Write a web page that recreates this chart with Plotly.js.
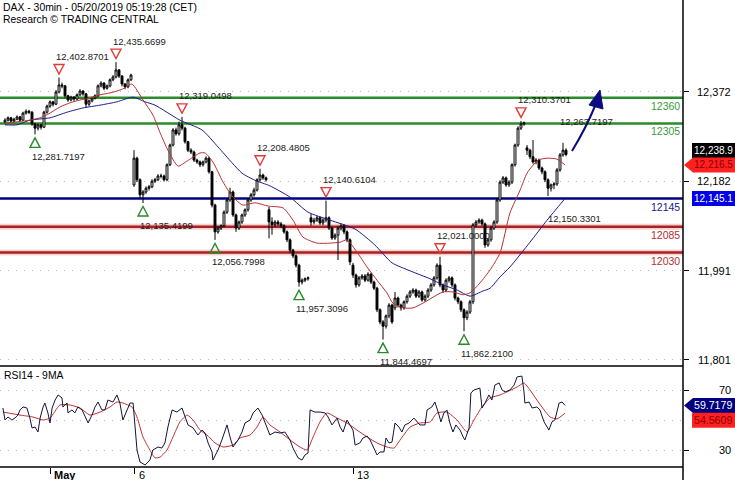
<!DOCTYPE html>
<html><head><meta charset="utf-8">
<script src="https://cdn.plot.ly/plotly-3.0.1.min.js"></script>
<style>html,body{margin:0;padding:0;background:#fff;}#chart{width:735px;height:480px;}</style>
</head><body><div id="chart"></div>
<script>
// ---------------- DATA ----------------
const openP = [12308,12312,12317,12310,12314,12319,12312,12327,12331,12329,12304,12295,12302,12297,12329,12342,12351,12346,12372,12387,12385,12364,12355,12361,12357,12366,12374,12368,12346,12353,12359,12364,12385,12391,12380,12385,12398,12404,12419,12406,12389,12383,12398,
12174,12231,12185,12153,12159,12167,12170,12182,12185,12193,12193,12185,12217,12259,12291,12283,12302,12295,12266,12248,12244,12227,12223,12217,12223,12231,12202,12131,12074,12082,12087,12116,12142,12159,12110,12082,12095,12110,12121,12142,12153,12163,12185,12195,12189,
12121,12095,12089,12095,12091,12087,12074,12057,12035,12023,12003,11967,11971,11974,
12104,12095,12099,12104,12093,12099,12104,12082,12061,12067,12082,12087,12074,12057,
12003,11982,11961,11976,11980,11971,11984,11967,11954,11908,11882,11873,11895,11918,
11912,11933,11918,11912,11925,11937,11946,11950,11937,11946,11929,11937,11950,11961,11976,12003,11961,11950,11971,11976,11961,11933,11925,11908,11891,11903,
11925,12089,12095,12099,12091,12046,12057,12082,12095,12142,12180,12189,12174,12180,12217,12259,12295,12304,
12253,12248,12234,12223,12227,12210,12202,12185,12167,12174,12176,12206,12238,12248];
const highP = [12316,12320,12319,12317,12322,12321,12330,12335,12334,12331,12306,12305,12304,12332,12345,12354,12353,12376,12402.87,12392,12387,12366,12364,12363,12369,12378,12376,12370,12356,12362,12367,12388,12395,12393,12388,12401,12408,12435.67,12421,12408,12391,12401,12411,
12248,12234,12188,12163,12171,12174,12186,12189,12197,12198,12196,12220,12262,12295,12296,12309,12319.05,12298,12268,12252,12247,12230,12226,12226,12235,12234,12204,12134,12086,12090,12120,12146,12168,12162,12113,12098,12113,12124,12146,12157,12168,12188,12208.48,12198,12192,
12127,12105,12099,12099,12095,12090,12077,12060,12038,12026,12006,11975,11977,11979,
12112,12104,12108,12107,12103,12140.61,12107,12085,12071,12086,12091,12090,12077,12060,
12008,11985,11980,11984,11984,11988,11987,11970,11957,11911,11886,11898,11922,11921,
11946,11936,11921,11928,11941,11950,11954,11953,11950,11949,11941,11954,11965,11980,12007,12021.0,11964,11975,11980,11979,11964,11936,11928,11911,11907,
11929,12093,12099,12103,12102,12094,12061,12086,12099,12146,12184,12193,12192,12184,12220,12262,12299,12310.37,12309,
12259,12251,12269.7,12231,12230,12213,12205,12188,12177,12180,12210,12242,12263.72,12252];
const lowP = [12305,12309,12306,12307,12312,12309,12310,12324,12325,12300,12281.72,12290,12292,12295,12326,12338,12341,12344,12369,12380,12360,12351,12352,12353,12355,12363,12364,12338,12342,12350,12356,12361,12382,12376,12377,12382,12395,12401,12402,12384,12378,12380,12395,
12170,12180,12146,12135.42,12155,12162,12167,12178,12182,12188,12181,12182,12214,12256,12279,12279,12290,12262,12244,12240,12223,12219,12212,12213,12220,12198,12126,12056.8,12070,12078,12084,12112,12138,12106,12074,12078,12091,12106,12117,12138,12149,12160,12181,12185,12181,
12060,12068,12084,12086,12082,12070,12052,12030,12018,11998,11957.31,11962,11967,11970,
12087,12090,12095,12089,12088,12094,12078,12057,12057,12014,12077,12069,12052,12003,
11976,11955,11957,11972,11967,11968,11963,11950,11903,11877,11844.47,11868,11890,11878,
11907,11913,11906,11908,11921,11933,11942,11933,11933,11925,11925,11933,11946,11957,11972,11956,11944,11946,11966,11956,11928,11920,11903,11862.21,11886,
11899,11920,12084,12091,12087,12040,12042,12053,12078,12091,12138,12176,12170,12170,12176,12213,12255,12291,12300,
12238,12229,12219,12218,12206,12197,12180,12150.33,12160,12165,12172,12202,12234,12235];
const closeP = [12312,12317,12310,12314,12319,12312,12327,12331,12329,12304,12295,12302,12297,12329,12342,12351,12346,12372,12387,12385,12364,12355,12361,12357,12366,12374,12368,12346,12353,12359,12364,12385,12391,12380,12385,12398,12404,12419,12406,12389,12383,12398,12408,
12231,12185,12153,12159,12167,12170,12182,12185,12193,12193,12185,12217,12259,12291,12283,12302,12295,12266,12248,12244,12227,12223,12217,12223,12231,12202,12131,12074,12082,12087,12116,12142,12159,12110,12082,12095,12110,12121,12142,12153,12163,12185,12195,12189,12185,
12095,12089,12095,12091,12087,12074,12057,12035,12023,12003,11967,11971,11974,11976,
12095,12099,12104,12093,12099,12104,12082,12061,12067,12082,12087,12074,12057,12010,
11982,11961,11976,11980,11971,11984,11967,11954,11908,11882,11873,11895,11918,11882,
11933,11918,11912,11925,11937,11946,11950,11937,11946,11929,11937,11950,11961,11976,12003,11961,11950,11971,11976,11961,11933,11925,11908,11891,11903,11925,
12089,12095,12099,12091,12046,12057,12082,12095,12142,12180,12189,12174,12180,12217,12259,12295,12304,12306,
12248,12234,12223,12227,12210,12202,12185,12167,12174,12176,12206,12238,12248,12238.9];

// moving averages on price (bar index, value)
const maFastX = [0,3.3,8.3,11.7,15,18.3,21.7,25,28.3,31.7,35,38.3,40,42.3,46,49.3,51.7,54.3,57.7,60.7,65,66.7,69.3,72.7,76,79.3,83.3,87.7,92.7,96,99.3,104,108.3,111.7,114,117.3,120.7,124,127.3,129.3,132.7,136,139.3,142.7,146,149.3,152.7,155,158.3,161.7,165,168.3,171.7,174,176,177.7,180.7,184,186.7];
const maFastV = [12306,12308,12312,12317,12327,12340,12349,12355,12359,12366,12370,12376,12381,12389,12355,12323,12285,12248,12214,12225,12242,12242,12223,12180,12148,12131,12136,12129,12125,12099,12063,12050,12050,12052,12057,12031,11999,11971,11944,11922,11912,11912,11922,11935,11946,11946,11940,11944,11965,11993,12029,12114,12163,12199,12216,12227,12231,12229,12216.5];
const maSlowX = [0,4,8.3,15,20.7,26,31.7,37.3,42.7,46.7,50,58.3,65.7,71,75.7,79,83.3,88.3,95,101,108.3,116.7,123.3,129,135,141.7,146,150.7,155,159.3,161.7,165,168.3,175,180.7,186.7];
const maSlowV = [12302,12302,12312,12317,12329,12338,12344,12351,12361,12351,12344,12312,12291,12255,12221,12199,12184,12172,12148,12116,12099,12080,12046,12008,11991,11974,11961,11950,11937,11948,11954,11978,11999,12052,12099,12145.1];

// RSI14 and its 9MA
const rsiX = [-0.7,0,1,2.3,3.3,4.3,5,6,7.3,8.3,9,10,11,11.7,12.7,13.3,14.3,15,15.7,16.7,17.7,19,19.3,20.7,21,22.3,23.3,24.3,25.7,26.7,27.7,29,30,31,32.3,33.3,34.3,36,37.3,38.3,39.3,40.7,41.7,42.7,43.3,44,45,46.7,48.3,49.3,51,52.3,53.3,54.3,55.7,57.3,59,60,61,62.7,64.3,65.7,66.7,67.7,69,69.3,71,72.3,74,75,76,77.7,79,80,81.7,82.7,84.3,85.7,86.7,88.3,90,91.7,93.3,95,96,97.7,99,100,101,101.7,103.3,105,106.7,107.7,109,110.7,111.7,112.7,114,115,116,116.7,118.3,119.3,120.7,121.7,123,124,125,126.3,127,128,129,130,131.3,132.3,133.3,134.7,136.3,137.3,138.3,140,140.7,142.3,143.3,144.7,145.3,146.3,147.3,148.3,149.3,150.3,151.7,152.7,153.3,154.7,155.3,156.3,158.3,159,160,161.3,162.3,163.3,164.7,165.7,166.7,168.3,169.7,170.7,172.3,173,173.3,174.7,175.7,177.3,178.3,179.7,181.3,182.3,183.3,184.7,185.7,186.7];
const rsiV = [58,50,52,50,51.3,53.3,56.7,58.7,58,51.3,44.7,45.3,42,51.3,58.7,61.3,54.7,48,58,63.3,66.7,64.7,58.7,61.3,54.7,56.7,54.7,58.7,56.7,52,48,53.3,58.7,62,56.7,56.7,63.3,62,66.7,61.3,50,56.7,61.3,61.3,45.3,30,22,20,23.3,30,32,31.3,34.7,45.3,56.7,55.3,58,52,46.7,44.7,40,43.3,41.3,34.7,28.7,23.3,30,36.7,46.7,38.7,32,36.7,42,48,50,54.7,58,53.3,48,40,42,41.3,42,36.7,31.3,24.7,23.3,26.7,28,56.7,55.3,55.3,54.7,52,46.7,51.3,45.3,42,50,46.7,43.3,33.3,34.7,38,39.3,36.7,31.3,26.7,28.7,28.7,38,34.7,35.3,48,45.3,42,46.7,48,51.3,48.7,46.7,46.7,56.7,58.7,62,53.3,48.7,54.7,56.7,48,42,46.7,43.3,38.7,36.7,44.7,68,70,71.3,58,61.3,66.7,63.3,73.3,74.7,70,68.7,70,73.3,78.7,79.3,68.7,61.3,62,58,58.7,56.7,48.7,43.3,48.7,50,61.3,62,59.7179];
const rsiMaX = [-0.7,5,9.3,12.7,15,18.3,21.7,25,28.3,31.7,35,37.3,39.3,42.3,44,46,48.3,50,51.7,54,56,58.3,60.7,62.7,65,67.3,70,72.7,76,78.3,81.7,84,86,88.3,91.7,95,98.3,100.7,102.7,105,107.3,110.7,114,117.3,120.7,124,127.3,129.7,131.7,135,138.3,141.7,144,147.3,150.7,154,156.3,159,161.7,165,167.3,170.7,173,175,177.3,179.7,181.7,184,186.7];
const rsiMaV = [55.3,53.3,52,50,51.3,60,60,58,53.3,55.3,58.7,62,61.3,58.7,52,38.7,30,24.7,25.3,30,38.7,48.7,53.3,50,43.3,40,34.7,32,33.3,38,40,45.3,52,46.7,42,36.7,32,30,38.7,48.7,54.7,51.3,48,43.3,38.7,34.7,32,31.3,36.7,45.3,48,48.7,54.7,55.3,50,42,50,58.7,64.7,66.7,68.7,72,74.7,70,63.3,56.7,52,50.7,54.5609];

// pivots
const pivX = [10,18,37,46,59,70,85,98,107,126,145,153,172,186,182];
const pivV = [12281.7197,12402.8701,12435.6699,12135.4199,12319.0498,12056.7998,12208.4805,11957.3096,12140.6104,11844.4697,12021.0000,11862.2100,12310.3701,12263.7197,12150.3301];
const pivType = ['L','H','H','L','H','L','H','L','H','L','H','L','H','H','L'];
const pivMarked = [1,1,1,1,1,1,1,1,1,1,1,1,1,0,0];

// support / resistance levels
const levels = [12360,12305,12145,12085,12030];
const levelKind = ['res','res','piv','sup','sup'];

// axis ticks
const priceTicks = [12372,12182,11991,11801];
const rsiTicks = [70,30];
const rsiGrid = [50];
const xTickPos = [15,43.33,116];
const xTickText = ['<b>May</b>','6','13'];

// ---------------- LAYOUT ----------------
const PW=683, PH=467;
const px=x=>x/PW, py=y=>1-y/PH;
const split = 1-366/PH;
const F='Liberation Sans, Arial, sans-serif';
const idx = closeP.map((_,i)=>i);
const shapes=[], ann=[];

const lvlStyle = {
  res:{line:'#2a8c2a', text:'#3a9a3a'},
  piv:{line:'#000080', text:'#202090'},
  sup:{line:'#a82222', text:'#b03030', halo:'rgba(235,150,150,0.45)'}
};
levels.forEach((v,k)=>{
  const s=lvlStyle[levelKind[k]];
  if(s.halo) shapes.push({type:'line',xref:'paper',yref:'y',x0:0,x1:1,y0:v,y1:v,line:{color:s.halo,width:6},layer:'below'});
  shapes.push({type:'line',xref:'paper',yref:'y',x0:0,x1:1,y0:v,y1:v,line:{color:s.line,width:2.5},layer:'below'});
  ann.push({xref:'paper',yref:'y',x:1,y:v,xanchor:'right',yanchor:'top',yshift:0,xshift:-1,text:String(v),showarrow:false,font:{family:F,size:10.5,color:s.text}});
});

// panel borders
shapes.push({type:'line',xref:'paper',yref:'paper',x0:0,x1:1,y0:split,y1:split,line:{color:'#000',width:1.5}});
shapes.push({type:'line',xref:'paper',yref:'paper',x0:0,x1:1,y0:0,y1:0,line:{color:'#000',width:1.5}});
shapes.push({type:'line',xref:'paper',yref:'paper',x0:1,x1:1,y0:-13/PH,y1:1,line:{color:'#000',width:1.5}});

// axis labels
priceTicks.forEach(v=>ann.push({xref:'paper',yref:'y',x:px(733),y:v,xanchor:'right',yanchor:'middle',text:v.toLocaleString('en-US'),showarrow:false,font:{family:F,size:11,color:'#000'}}));
rsiTicks.forEach(v=>ann.push({xref:'paper',yref:'y2',x:px(733),y:v,xanchor:'right',yanchor:'middle',text:String(v),showarrow:false,font:{family:F,size:11,color:'#000'}}));
xTickPos.forEach((p,k)=>ann.push({xref:'x',yref:'paper',x:p,y:-8/PH,xanchor:'left',yanchor:'middle',xshift:2,text:xTickText[k],showarrow:false,font:{family:F,size:11,color:'#000'}}));

// header
ann.push({xref:'paper',yref:'paper',x:px(1),y:py(7),xanchor:'left',yanchor:'middle',text:'DAX - 30min - 05/20/2019 05:19:28 (CET)',showarrow:false,font:{family:F,size:10.4,color:'#000'}});
ann.push({xref:'paper',yref:'paper',x:px(1),y:py(20),xanchor:'left',yanchor:'middle',text:'Research © TRADING CENTRAL',showarrow:false,font:{family:F,size:10.4,color:'#000'}});
ann.push({xref:'paper',yref:'paper',x:px(2),y:py(375),xanchor:'left',yanchor:'middle',text:'RSI14 - 9MA',showarrow:false,font:{family:F,size:10.4,color:'#000'}});

// pivots: hollow triangle marks (pixel-sized shapes anchored at the pivot) + labels
pivX.forEach((x,k)=>{
  const hi = pivType[k]==='H';
  if(pivMarked[k]) shapes.push({type:'path',xref:'x',yref:'y',xsizemode:'pixel',ysizemode:'pixel',xanchor:x,yanchor:pivV[k],
    path: hi ? 'M-5,13 L5,13 L0,3.5 Z' : 'M-5,-13 L5,-13 L0,-3.5 Z',
    fillcolor:'rgba(255,255,255,0)',line:{color:hi?'#e03a3a':'#2a8a2a',width:1.4}});
  ann.push({xref:'x',yref:'y',x:x,y:pivV[k],xanchor:'left',yanchor:'middle',xshift:-5,yshift:hi?21:-22,text:pivV[k].toLocaleString('en-US',{minimumFractionDigits:4,maximumFractionDigits:4}),showarrow:false,font:{family:F,size:9.5,color:'#1a1a1a'}});
});

// value boxes at right
const lastClose = closeP[closeP.length-1];
const lastFast = maFastV[maFastV.length-1];
const lastSlow = maSlowV[maSlowV.length-1];
const lastRsi = rsiV[rsiV.length-1];
const lastRsiMa = rsiMaV[rsiMaV.length-1];
const f1 = v=>v.toLocaleString('en-US',{minimumFractionDigits:1,maximumFractionDigits:1});
const boxes = [
  {v:lastClose, ax:'y', fill:'#000000', tc:'#ffffff', arrow:false, txt:f1(lastClose), shift:4, fs:10},
  {v:lastFast, ax:'y', fill:'#ff2020', tc:'#8a0000', arrow:true, txt:f1(lastFast), shift:0, fs:10},
  {v:lastSlow, ax:'y', fill:'#0000e6', tc:'#ffffff', arrow:false, txt:f1(lastSlow), shift:0, fs:10},
  {v:lastRsi, ax:'y2', fill:'#000080', tc:'#ffffff', arrow:true, txt:lastRsi.toFixed(4), shift:0, fs:10.6},
  {v:lastRsiMa, ax:'y2', fill:'#ff2020', tc:'#8a0000', arrow:false, txt:lastRsiMa.toFixed(4), shift:-7, fs:10.6}
];
boxes.forEach(b=>{
  const s=b.shift, t=(7.5+s), u=(-7.5+s);
  const path = b.arrow ? `M1,${s} L10,${t} L60,${t} L60,${u} L10,${u} Z` : `M9,${t} L60,${t} L60,${u} L9,${u} Z`;
  shapes.push({type:'path',xref:'paper',yref:b.ax,xsizemode:'pixel',ysizemode:'pixel',xanchor:1,yanchor:b.v,path:path,fillcolor:b.fill,line:{width:0}});
  ann.push({xref:'paper',yref:b.ax,x:px(693),y:b.v,yshift:s,xanchor:'left',yanchor:'middle',text:b.txt,showarrow:false,borderpad:0,font:{family:F,size:b.fs,color:b.tc}});
});

// forecast arrow
const P=(x,y)=>px(x)+','+py(y);
shapes.push({type:'path',xref:'paper',yref:'paper',path:'M'+P(572,151)+' Q'+P(586,128)+' '+P(595,106),line:{color:'#0c0c80',width:2}});
shapes.push({type:'path',xref:'paper',yref:'paper',path:'M'+P(600,90)+' L'+P(589,105)+' L'+P(603,109)+' Z',fillcolor:'#0c0c80',line:{color:'#0c0c80',width:1}});

const traces = [
  {type:'candlestick',x:idx,open:openP,high:highP,low:lowP,close:closeP,xaxis:'x',yaxis:'y',
   increasing:{line:{color:'#000',width:1},fillcolor:'#ffffff'},
   decreasing:{line:{color:'#000',width:1},fillcolor:'#000000'},
   whiskerwidth:0,hoverinfo:'skip',showlegend:false},
  {type:'scatter',mode:'lines',x:maSlowX,y:maSlowV,xaxis:'x',yaxis:'y',line:{color:'#1c1c8c',width:1,shape:'spline',smoothing:0.6},hoverinfo:'skip'},
  {type:'scatter',mode:'lines',x:maFastX,y:maFastV,xaxis:'x',yaxis:'y',line:{color:'#b83030',width:1,shape:'spline',smoothing:0.6},hoverinfo:'skip'},
  {type:'scatter',mode:'lines',x:rsiMaX,y:rsiMaV,xaxis:'x',yaxis:'y2',line:{color:'#c03030',width:1,shape:'spline',smoothing:0.5},hoverinfo:'skip'},
  {type:'scatter',mode:'lines',x:rsiX,y:rsiV,xaxis:'x',yaxis:'y2',line:{color:'#14143c',width:1},hoverinfo:'skip'}
];

const grid = {showgrid:true,gridcolor:'#b8b8b8',gridwidth:1,griddash:'1px,7px'};
const layout = {
  width:735,height:480,margin:{l:0,r:52,t:0,b:13,pad:0},
  paper_bgcolor:'#fff',plot_bgcolor:'#fff',showlegend:false,hovermode:false,
  boxgap:0.1,
  xaxis:{domain:[0,1],range:[-1.667,226],anchor:'y2',showgrid:false,zeroline:false,showline:false,
    tickmode:'array',tickvals:xTickPos,ticks:'outside',ticklen:6,tickwidth:1,tickcolor:'#000',showticklabels:false,
    rangeslider:{visible:false},fixedrange:true},
  yaxis:Object.assign({domain:[split,1],range:[11788.2,12568],side:'right',anchor:'x',zeroline:false,showline:false,
    tickmode:'array',tickvals:priceTicks,ticks:'outside',ticklen:5,tickcolor:'#000',showticklabels:false,fixedrange:true},grid),
  yaxis2:Object.assign({domain:[0,split],range:[18.67,86],side:'right',anchor:'x',zeroline:false,showline:false,
    tickmode:'array',tickvals:rsiTicks,ticks:'outside',ticklen:5,tickcolor:'#000',showticklabels:false,fixedrange:true,
    minor:{tickmode:'array',tickvals:rsiGrid,showgrid:true,gridcolor:'#b8b8b8',griddash:'1px,7px',ticks:''}},grid),
  shapes:shapes,annotations:ann
};
Plotly.newPlot('chart',traces,layout,{staticPlot:true,displayModeBar:false});
</script></body></html>
